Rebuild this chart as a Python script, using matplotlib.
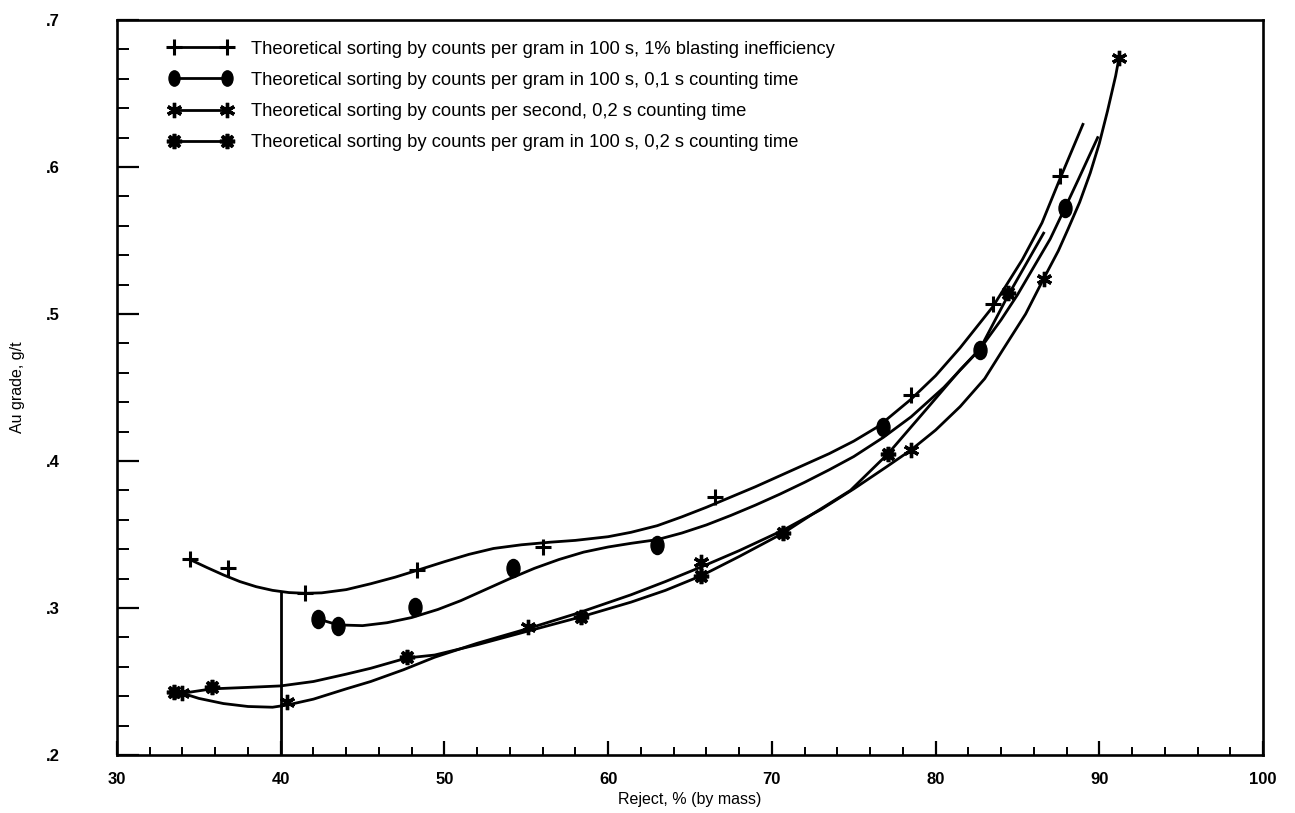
import matplotlib
matplotlib.use("Agg")
import matplotlib.pyplot as plt
from matplotlib.markers import MarkerStyle
from matplotlib.transforms import Affine2D
from matplotlib.ticker import MultipleLocator, FuncFormatter

plt.rcParams['font.family'] = ['Liberation Sans', 'DejaVu Sans']

labels = [
    "Theoretical sorting by counts per gram in 100 s, 1% blasting inefficiency",
    "Theoretical sorting by counts per gram in 100 s, 0,1 s counting time",
    "Theoretical sorting by counts per second, 0,2 s counting time",
    "Theoretical sorting by counts per gram in 100 s, 0,2 s counting time",
]

# measured points (markers)
plus_x = [34.45, 36.8, 41.5, 48.35, 56.0, 66.5, 78.5, 83.5, 87.6]
plus_y = [0.333, 0.327, 0.310, 0.326, 0.3415, 0.3755, 0.445, 0.507, 0.594]
circ_x = [42.3, 43.5, 48.2, 54.2, 63.0, 76.8, 82.7, 87.9]
circ_y = [0.2925, 0.288, 0.3007, 0.327, 0.343, 0.423, 0.4755, 0.572]
sec_x = [34.0, 40.4, 55.1, 65.7, 78.5, 86.6, 91.2]
sec_y = [0.242, 0.236, 0.287, 0.331, 0.4075, 0.524, 0.674]
gram_x = [33.5, 35.8, 47.7, 58.35, 65.7, 70.7, 77.1, 84.4]
gram_y = [0.243, 0.246, 0.267, 0.294, 0.322, 0.351, 0.405, 0.514]

# hand-drawn fitted curves
plus_cx = [34.45, 35.5, 36.5, 37.5, 38.5, 39.5, 40.5, 41.5, 42.5, 44, 45.5, 47,
           48.3, 50, 51.5, 53, 54.7, 56.5, 58, 60, 61.4, 63, 64.5, 66, 67.5, 69,
           70.5, 72, 73.5, 75, 76.5, 78.5, 80, 81.5, 83.5, 85.3, 86.5, 87.6, 89.0]
plus_cy = [0.333, 0.3275, 0.3225, 0.3180, 0.3145, 0.3120, 0.3105, 0.3100, 0.3103,
           0.3125, 0.3165, 0.3210, 0.3255, 0.3315, 0.3365, 0.3405, 0.3430, 0.3448,
           0.3460, 0.3485, 0.3515, 0.3560, 0.3620, 0.3685, 0.3755, 0.3825, 0.3900,
           0.3975, 0.4050, 0.4135, 0.4235, 0.4420, 0.4580, 0.4770, 0.5050, 0.5370,
           0.5620, 0.5920, 0.6290]
circ_cx = [42.3, 43.5, 45.0, 46.5, 48.0, 49.6, 51.0, 52.5, 54.0, 55.5, 57.0,
           58.5, 60.0, 61.4, 63.0, 64.5, 66.0, 67.5, 69.0, 70.5, 72.0, 73.5,
           75.0, 76.8, 78.5, 80.5, 82.7, 84.0, 85.0, 86.0, 87.0, 87.9, 88.7, 89.9]
circ_cy = [0.2925, 0.2885, 0.2880, 0.2900, 0.2935, 0.2990, 0.3050, 0.3125, 0.3200,
           0.3270, 0.3330, 0.3380, 0.3415, 0.3440, 0.3465, 0.3510, 0.3565, 0.3630,
           0.3700, 0.3775, 0.3855, 0.3940, 0.4030, 0.4160, 0.4300, 0.4500, 0.4760,
           0.4960, 0.5130, 0.5320, 0.5510, 0.5720, 0.5910, 0.6200]
sec_cx = [34.0, 35, 36.5, 38, 39.5, 40.4, 42, 44, 45.5, 47.5, 49.4, 52, 55.1,
          58, 61.4, 63.5, 65.7, 68, 70.7, 73, 75, 77, 78.5, 80, 81.5, 83, 84.1,
          85.5, 86.6, 87.5, 88.1, 88.8, 89.45, 90.0, 90.5, 91.0, 91.2]
sec_cy = [0.242, 0.2385, 0.2350, 0.2330, 0.2325, 0.2340, 0.2380, 0.2450, 0.2500,
          0.2580, 0.2665, 0.2760, 0.2860, 0.2960, 0.3090, 0.3180, 0.3280, 0.3390,
          0.3530, 0.3670, 0.3810, 0.3960, 0.4075, 0.4210, 0.4370, 0.4560, 0.4755,
          0.5000, 0.5240, 0.5430, 0.5580, 0.5760, 0.5960, 0.6160, 0.6380, 0.6620,
          0.6740]
gram_cx = [33.5, 34.0, 35.8, 38, 40, 42, 44, 45.5, 47.7, 49.4, 52, 55, 58.35,
           61.4, 63.5, 65.7, 68, 70.7, 72.5, 74.8, 77.1, 79.5, 81.5, 82.7, 84.4,
           86.6]
gram_cy = [0.243, 0.242, 0.245, 0.246, 0.247, 0.250, 0.255, 0.259, 0.266, 0.268,
           0.275, 0.284, 0.294, 0.304, 0.312, 0.322, 0.335, 0.351, 0.364, 0.380,
           0.405, 0.436, 0.462, 0.476, 0.512, 0.555]

cutoff_x = 40
cutoff_top = 0.311

fig = plt.figure(figsize=(12.95, 8.13), dpi=100)
ax = fig.add_axes([117 / 1295, 1 - 755 / 813, 1146 / 1295, 735 / 813])

lw = 2.0
ell = MarkerStyle('o', transform=Affine2D().scale(0.72, 1.0))

ax.plot(plus_cx, plus_cy, color='black', lw=lw)
ax.plot(circ_cx, circ_cy, color='black', lw=lw)
ax.plot(sec_cx, sec_cy, color='black', lw=lw)
ax.plot(gram_cx, gram_cy, color='black', lw=lw)

ax.plot(plus_x, plus_y, ls='none', marker='+', ms=11, mew=2.2, color='black')
ax.plot(circ_x, circ_y, ls='none', marker=ell, ms=13, color='black')
ax.plot(sec_x, sec_y, ls='none', marker=(6, 2, 0), ms=11, mew=2.4, color='black')
ax.plot(gram_x, gram_y, ls='none', marker=(8, 2, 0), ms=11, mew=2.6, color='black')

ax.plot([cutoff_x, cutoff_x], [0.2, cutoff_top], color='black', lw=lw)

# legend handles
handles = [
    plt.Line2D([], [], color='black', lw=lw, marker='+', ms=11, mew=2.2),
    plt.Line2D([], [], color='black', lw=lw, marker=ell, ms=11),
    plt.Line2D([], [], color='black', lw=lw, marker=(6, 2, 0), ms=11, mew=2.4),
    plt.Line2D([], [], color='black', lw=lw, marker=(8, 2, 0), ms=11, mew=2.6),
]
ax.legend(handles, labels, loc='upper left', bbox_to_anchor=(0.045, 0.972),
          frameon=False, numpoints=2, fontsize=13.2, handlelength=3.5,
          handletextpad=1.0, labelspacing=0.78, borderpad=0, borderaxespad=0)

ax.set_xlim(30, 100)
ax.set_ylim(0.2, 0.7)
ax.xaxis.set_major_locator(MultipleLocator(10))
ax.xaxis.set_minor_locator(MultipleLocator(2))
ax.yaxis.set_major_locator(MultipleLocator(0.1))
ax.yaxis.set_minor_locator(MultipleLocator(0.02))
ax.yaxis.set_major_formatter(FuncFormatter(lambda v, p: ('%.1f' % v).lstrip('0')))

ax.tick_params(axis='x', which='major', direction='in', length=10, width=1.6, pad=12)
ax.tick_params(axis='x', which='minor', direction='in', length=5.5, width=1.4)
ax.tick_params(axis='y', which='major', direction='in', length=15.5, width=1.6, pad=41)
ax.tick_params(axis='y', which='minor', direction='in', length=8.5, width=1.4)
for lab in ax.get_xticklabels() + ax.get_yticklabels():
    lab.set_fontweight('bold')
    lab.set_fontsize(12)
for s in ax.spines.values():
    s.set_linewidth(1.9)

ax.set_xlabel("Reject, % (by mass)", fontsize=11.5, labelpad=4)
ax.set_ylabel("Au grade, g/t", fontsize=11.5, labelpad=15)

fig.savefig("out.png", dpi=100)
